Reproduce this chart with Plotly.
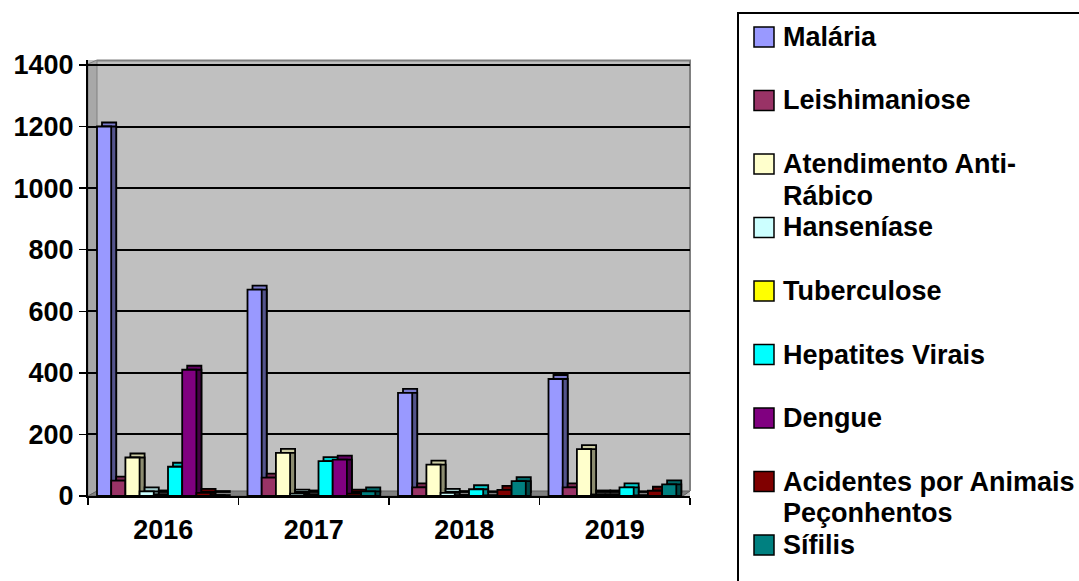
import plotly.graph_objects as go

# ---------------- data ----------------
years = ["2016", "2017", "2018", "2019"]
series_names = ["Malária", "Leishimaniose", "Atendimento Anti-Rábico", "Hanseníase",
                "Tuberculose", "Hepatites Virais", "Dengue",
                "Acidentes por Animais Peçonhentos", "Sífilis"]
malaria = [1200, 670, 335, 380]
leishimaniose = [50, 60, 28, 28]
atendimento_antirrabico = [125, 140, 102, 152]
hanseniase = [15, 8, 10, 5]
tuberculose = [5, 5, 3, 5]
hepatites_virais = [95, 113, 22, 28]
dengue = [410, 118, 2, 2]
acidentes_animais = [10, 8, 20, 17]
sifilis = [3, 15, 48, 38]
series_values = [malaria, leishimaniose, atendimento_antirrabico, hanseniase,
                 tuberculose, hepatites_virais, dengue, acidentes_animais, sifilis]
legend_lines = [["Malária"], ["Leishimaniose"], ["Atendimento Anti-", "Rábico"],
                ["Hanseníase"], ["Tuberculose"], ["Hepatites Virais"], ["Dengue"],
                ["Acidentes por Animais", "Peçonhentos"], ["Sífilis"]]
y_ticks = [0, 200, 400, 600, 800, 1000, 1200, 1400]

# ---------------- style ----------------
colors = ["#9999FF", "#993366", "#FFFFCC", "#CCFFFF", "#FFFF00",
          "#00FFFF", "#800080", "#800000", "#008080"]
FONT = "Liberation Sans"
FS = 27
FS_LEG = 27

W, H = 1079, 581
PL, PR, PT, PB = 88, 690, 60, 496
YMAX = 1416
NCAT = len(years)
px_x = (PR - PL) / NCAT
px_y = (PB - PT) / YMAX
bar_w = 14.2 / px_x
start = 9 / px_x
dx = 5 / px_x
dy = 4 / px_y


def shade(hexcol, f):
    h = hexcol.lstrip("#")
    r, g, b = (int(h[i:i + 2], 16) for i in (0, 2, 4))
    return "rgb(%d,%d,%d)" % (r * f, g * f, b * f)


def pxx(p):
    return (p - PL) / (PR - PL)


def pxy(p):
    return (PB - p) / (PB - PT)


fig = go.Figure()
for j, (name, vals, col) in enumerate(zip(series_names, series_values, colors)):
    xs = [i + start + (j + 0.5) * bar_w for i in range(NCAT)]
    line = dict(color="black", width=1.8)
    # top face
    fig.add_trace(go.Bar(x=[x + dx for x in xs], y=vals, base=dy, width=bar_w,
                         marker=dict(color=shade(col, 0.8), line=line),
                         showlegend=False, hoverinfo="skip"))
    # side face
    fig.add_trace(go.Bar(x=[x + dx for x in xs], y=vals, base=0, width=bar_w,
                         marker=dict(color=shade(col, 0.55), line=line),
                         showlegend=False, hoverinfo="skip"))
    # front face
    fig.add_trace(go.Bar(x=xs, y=vals, width=bar_w, name=name,
                         marker=dict(color=col, line=line),
                         showlegend=False))

shapes = []
# left wall
shapes.append(dict(type="path", xref="paper", yref="paper", layer="between",
                   path="M %f %f L %f %f L %f %f L %f %f Z" % (
                       pxx(88), pxy(496), pxx(88), pxy(64), pxx(97), pxy(60), pxx(97), pxy(491)),
                   fillcolor="#A8A8A8", line=dict(color="#808080", width=1)))
# floor
shapes.append(dict(type="path", xref="paper", yref="paper", layer="between",
                   path="M %f %f L %f %f L %f %f L %f %f Z" % (
                       pxx(88), pxy(496), pxx(683), pxy(496), pxx(690), pxy(491), pxx(97), pxy(491)),
                   fillcolor="#808080", line=dict(color="#606060", width=1)))
# back wall border (top + right)
shapes.append(dict(type="path", xref="paper", yref="paper", layer="between",
                   path="M %f %f L %f %f L %f %f" % (
                       pxx(97), pxy(60.5), pxx(690), pxy(60.5), pxx(690), pxy(491)),
                   line=dict(color="#808080", width=2)))
# legend box
shapes.append(dict(type="rect", xref="paper", yref="paper",
                   x0=pxx(738), x1=pxx(1110), y0=pxy(13), y1=pxy(600),
                   fillcolor="white", line=dict(color="black", width=2)))

annotations = []
item_y0, item_step = 37, 63.5
for j, (lines, col) in enumerate(zip(legend_lines, colors)):
    yc = item_y0 + j * item_step
    shapes.append(dict(type="rect", xref="paper", yref="paper",
                       x0=pxx(754), x1=pxx(774), y0=pxy(yc - 10), y1=pxy(yc + 10),
                       fillcolor=col, line=dict(color="black", width=1.5)))
    for k, txt in enumerate(lines):
        annotations.append(dict(xref="paper", yref="paper", x=pxx(781), y=pxy(yc + k * 31.7),
                                xanchor="left", yanchor="middle", showarrow=False,
                                text="<b>%s</b>" % txt,
                                font=dict(family=FONT, size=FS_LEG, color="black")))

fig.update_layout(
    width=W, height=H, autosize=False,
    margin=dict(l=PL, r=W - PR, t=PT, b=H - PB, pad=0),
    paper_bgcolor="white", plot_bgcolor="#C0C0C0",
    barmode="overlay", bargap=0,
    shapes=shapes, annotations=annotations,
    xaxis=dict(range=[0, NCAT], tickmode="array",
               tickvals=[i + 0.5 for i in range(NCAT)],
               ticktext=["<b>%s</b>" % y for y in years],
               ticks="outside", ticklen=9, tickcolor="rgba(0,0,0,0)",
               tickfont=dict(family=FONT, size=FS, color="black"),
               showgrid=False, zeroline=False, automargin=False,
               showline=True, linecolor="black", linewidth=2,
               minor=dict(tickmode="array", tickvals=list(range(NCAT + 1)),
                          ticks="outside", ticklen=7, tickcolor="black",
                          tickwidth=1.5, showgrid=False),
               fixedrange=True),
    yaxis=dict(range=[0, YMAX], tickmode="array", tickvals=y_ticks,
               ticktext=["<b>%d</b>" % v for v in y_ticks],
               ticks="outside", ticklen=7, tickcolor="black", tickwidth=1.5,
               tickfont=dict(family=FONT, size=FS, color="black"),
               showgrid=True, gridcolor="black", gridwidth=2,
               zeroline=False, automargin=False,
               showline=True, linecolor="black", linewidth=2,
               fixedrange=True),
)

fig.write_html("out.html", config={"displayModeBar": False, "staticPlot": True},
               post_script="document.body.style.margin='0';document.body.style.overflow='hidden';")
